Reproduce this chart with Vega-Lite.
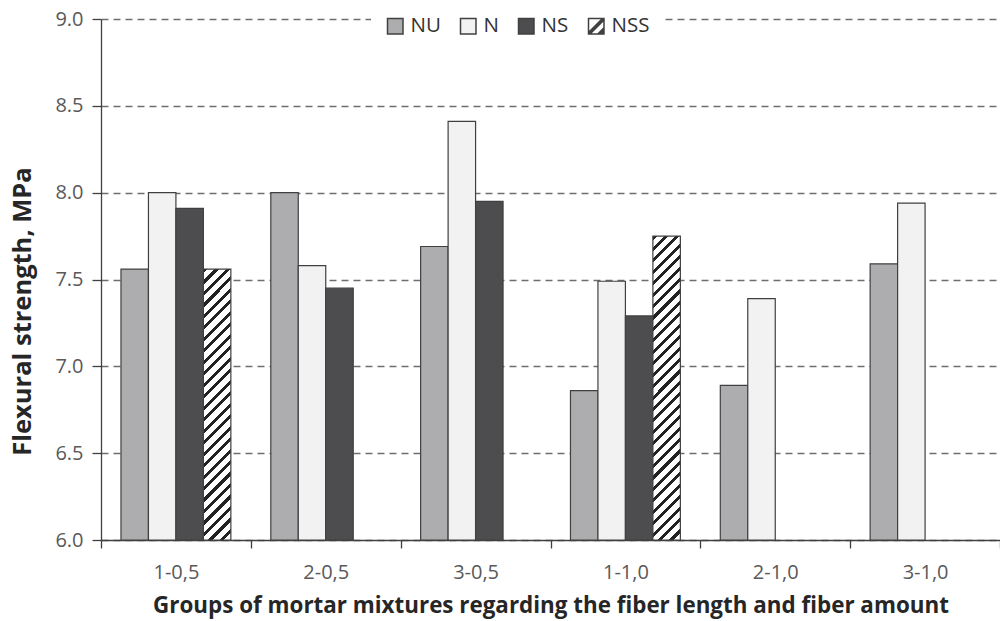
{
 "$schema": "https://vega.github.io/schema/vega-lite/v6.json",
 "width": 899,
 "height": 521,
 "autosize": {"type": "none"},
 "padding": {"left": 101, "top": 19, "right": 0, "bottom": 81},
 "background": "white",
 "config": {"font": "Open Sans", "view": {"stroke": null}},
 "data": {"values": [
  {"group": "1-0,5", "type": "NU", "value": 7.56},
  {"group": "1-0,5", "type": "N", "value": 8.00},
  {"group": "1-0,5", "type": "NS", "value": 7.91},
  {"group": "1-0,5", "type": "NSS", "value": 7.56},
  {"group": "2-0,5", "type": "NU", "value": 8.00},
  {"group": "2-0,5", "type": "N", "value": 7.58},
  {"group": "2-0,5", "type": "NS", "value": 7.45},
  {"group": "3-0,5", "type": "NU", "value": 7.69},
  {"group": "3-0,5", "type": "N", "value": 8.41},
  {"group": "3-0,5", "type": "NS", "value": 7.95},
  {"group": "1-1,0", "type": "NU", "value": 6.86},
  {"group": "1-1,0", "type": "N", "value": 7.49},
  {"group": "1-1,0", "type": "NS", "value": 7.29},
  {"group": "1-1,0", "type": "NSS", "value": 7.75},
  {"group": "2-1,0", "type": "NU", "value": 6.89},
  {"group": "2-1,0", "type": "N", "value": 7.39},
  {"group": "3-1,0", "type": "NU", "value": 7.59},
  {"group": "3-1,0", "type": "N", "value": 7.94}
 ]},
 "mark": {"type": "bar", "stroke": "#404040", "strokeWidth": 1.2, "clip": true},
 "encoding": {
  "x": {
   "field": "group", "type": "nominal",
   "sort": ["1-0,5", "2-0,5", "3-0,5", "1-1,0", "2-1,0", "3-1,0"],
   "scale": {"paddingInner": 0, "paddingOuter": 0},
   "axis": {
    "title": "Groups of mortar mixtures regarding the fiber length and fiber amount",
    "labelAngle": 0, "tickBand": "extent", "tickSize": 8, "tickColor": "#404040", "tickWidth": 1.3,
    "domainColor": "#404040", "domainWidth": 1.3, "grid": false,
    "labelFontSize": 20, "labelColor": "#595959", "labelPadding": 14,
    "titleFontSize": 22.4, "titleFontWeight": "bold", "titleColor": "#262626",
    "titleY": 65, "titleBaseline": "middle"
   }
  },
  "xOffset": {
   "field": "type", "type": "nominal",
   "scale": {"domain": ["NU", "N", "NS", "NSS"], "paddingInner": 0, "paddingOuter": 0.727}
  },
  "y": {
   "field": "value", "type": "quantitative",
   "scale": {"domain": [6, 9], "nice": false, "zero": false},
   "axis": {
    "title": "Flexural strength, MPa",
    "values": [6, 6.5, 7, 7.5, 8, 8.5, 9], "format": ".1f",
    "grid": true, "gridDash": [7, 5], "gridColor": "#6e6e6e", "gridWidth": 1.3,
    "tickSize": 9, "tickColor": "#404040", "tickWidth": 1.3,
    "domainColor": "#404040", "domainWidth": 1.3,
    "labelFontSize": 20, "labelColor": "#595959", "labelPadding": 9,
    "titleFontSize": 25.5, "titleFontWeight": "bold", "titleColor": "#262626",
    "titleX": -79, "titleY": 292, "titleBaseline": "middle", "titleAlign": "center", "titleAngle": 270
   }
  },
  "y2": {"datum": 6},
  "color": {
   "field": "type", "type": "nominal",
   "scale": {"domain": ["NU", "N", "NS", "NSS"], "range": ["#ADADAF", "#F2F2F2", "#4D4D4F", "#FFFFFF"]},
   "condition": [
    {"test": "datum.type === 'NSS' && datum.group === '1-0,5'", "value": {"gradient": "linear", "x1": 0, "y1": 0, "x2": 0.1107, "y2": 1.0902, "stops": [
     {"offset": 0, "color": "#222"}, {"offset": 0.0138, "color": "#222"}, {"offset": 0.0138, "color": "#fff"}, {"offset": 0.0385, "color": "#fff"},
     {"offset": 0.0385, "color": "#222"}, {"offset": 0.0523, "color": "#222"}, {"offset": 0.0523, "color": "#fff"}, {"offset": 0.0769, "color": "#fff"},
     {"offset": 0.0769, "color": "#222"}, {"offset": 0.0908, "color": "#222"}, {"offset": 0.0908, "color": "#fff"}, {"offset": 0.1154, "color": "#fff"},
     {"offset": 0.1154, "color": "#222"}, {"offset": 0.1292, "color": "#222"}, {"offset": 0.1292, "color": "#fff"}, {"offset": 0.1538, "color": "#fff"},
     {"offset": 0.1538, "color": "#222"}, {"offset": 0.1677, "color": "#222"}, {"offset": 0.1677, "color": "#fff"}, {"offset": 0.1923, "color": "#fff"},
     {"offset": 0.1923, "color": "#222"}, {"offset": 0.2062, "color": "#222"}, {"offset": 0.2062, "color": "#fff"}, {"offset": 0.2308, "color": "#fff"},
     {"offset": 0.2308, "color": "#222"}, {"offset": 0.2446, "color": "#222"}, {"offset": 0.2446, "color": "#fff"}, {"offset": 0.2692, "color": "#fff"},
     {"offset": 0.2692, "color": "#222"}, {"offset": 0.2831, "color": "#222"}, {"offset": 0.2831, "color": "#fff"}, {"offset": 0.3077, "color": "#fff"},
     {"offset": 0.3077, "color": "#222"}, {"offset": 0.3215, "color": "#222"}, {"offset": 0.3215, "color": "#fff"}, {"offset": 0.3462, "color": "#fff"},
     {"offset": 0.3462, "color": "#222"}, {"offset": 0.36, "color": "#222"}, {"offset": 0.36, "color": "#fff"}, {"offset": 0.3846, "color": "#fff"},
     {"offset": 0.3846, "color": "#222"}, {"offset": 0.3985, "color": "#222"}, {"offset": 0.3985, "color": "#fff"}, {"offset": 0.4231, "color": "#fff"},
     {"offset": 0.4231, "color": "#222"}, {"offset": 0.4369, "color": "#222"}, {"offset": 0.4369, "color": "#fff"}, {"offset": 0.4615, "color": "#fff"},
     {"offset": 0.4615, "color": "#222"}, {"offset": 0.4754, "color": "#222"}, {"offset": 0.4754, "color": "#fff"}, {"offset": 0.5, "color": "#fff"},
     {"offset": 0.5, "color": "#222"}, {"offset": 0.5138, "color": "#222"}, {"offset": 0.5138, "color": "#fff"}, {"offset": 0.5385, "color": "#fff"},
     {"offset": 0.5385, "color": "#222"}, {"offset": 0.5523, "color": "#222"}, {"offset": 0.5523, "color": "#fff"}, {"offset": 0.5769, "color": "#fff"},
     {"offset": 0.5769, "color": "#222"}, {"offset": 0.5908, "color": "#222"}, {"offset": 0.5908, "color": "#fff"}, {"offset": 0.6154, "color": "#fff"},
     {"offset": 0.6154, "color": "#222"}, {"offset": 0.6292, "color": "#222"}, {"offset": 0.6292, "color": "#fff"}, {"offset": 0.6538, "color": "#fff"},
     {"offset": 0.6538, "color": "#222"}, {"offset": 0.6677, "color": "#222"}, {"offset": 0.6677, "color": "#fff"}, {"offset": 0.6923, "color": "#fff"},
     {"offset": 0.6923, "color": "#222"}, {"offset": 0.7062, "color": "#222"}, {"offset": 0.7062, "color": "#fff"}, {"offset": 0.7308, "color": "#fff"},
     {"offset": 0.7308, "color": "#222"}, {"offset": 0.7446, "color": "#222"}, {"offset": 0.7446, "color": "#fff"}, {"offset": 0.7692, "color": "#fff"},
     {"offset": 0.7692, "color": "#222"}, {"offset": 0.7831, "color": "#222"}, {"offset": 0.7831, "color": "#fff"}, {"offset": 0.8077, "color": "#fff"},
     {"offset": 0.8077, "color": "#222"}, {"offset": 0.8215, "color": "#222"}, {"offset": 0.8215, "color": "#fff"}, {"offset": 0.8462, "color": "#fff"},
     {"offset": 0.8462, "color": "#222"}, {"offset": 0.86, "color": "#222"}, {"offset": 0.86, "color": "#fff"}, {"offset": 0.8846, "color": "#fff"},
     {"offset": 0.8846, "color": "#222"}, {"offset": 0.8985, "color": "#222"}, {"offset": 0.8985, "color": "#fff"}, {"offset": 0.9231, "color": "#fff"},
     {"offset": 0.9231, "color": "#222"}, {"offset": 0.9369, "color": "#222"}, {"offset": 0.9369, "color": "#fff"}, {"offset": 0.9615, "color": "#fff"},
     {"offset": 0.9615, "color": "#222"}, {"offset": 0.9754, "color": "#222"}, {"offset": 0.9754, "color": "#fff"}, {"offset": 1, "color": "#fff"}
    ]}},
    {"test": "datum.type === 'NSS' && datum.group === '1-1,0'", "value": {"gradient": "linear", "x1": 0, "y1": 0, "x2": 0.0979, "y2": 1.0818, "stops": [
     {"offset": 0, "color": "#222"}, {"offset": 0.0124, "color": "#222"}, {"offset": 0.0124, "color": "#fff"}, {"offset": 0.0345, "color": "#fff"},
     {"offset": 0.0345, "color": "#222"}, {"offset": 0.0469, "color": "#222"}, {"offset": 0.0469, "color": "#fff"}, {"offset": 0.069, "color": "#fff"},
     {"offset": 0.069, "color": "#222"}, {"offset": 0.0814, "color": "#222"}, {"offset": 0.0814, "color": "#fff"}, {"offset": 0.1034, "color": "#fff"},
     {"offset": 0.1034, "color": "#222"}, {"offset": 0.1159, "color": "#222"}, {"offset": 0.1159, "color": "#fff"}, {"offset": 0.1379, "color": "#fff"},
     {"offset": 0.1379, "color": "#222"}, {"offset": 0.1503, "color": "#222"}, {"offset": 0.1503, "color": "#fff"}, {"offset": 0.1724, "color": "#fff"},
     {"offset": 0.1724, "color": "#222"}, {"offset": 0.1848, "color": "#222"}, {"offset": 0.1848, "color": "#fff"}, {"offset": 0.2069, "color": "#fff"},
     {"offset": 0.2069, "color": "#222"}, {"offset": 0.2193, "color": "#222"}, {"offset": 0.2193, "color": "#fff"}, {"offset": 0.2414, "color": "#fff"},
     {"offset": 0.2414, "color": "#222"}, {"offset": 0.2538, "color": "#222"}, {"offset": 0.2538, "color": "#fff"}, {"offset": 0.2759, "color": "#fff"},
     {"offset": 0.2759, "color": "#222"}, {"offset": 0.2883, "color": "#222"}, {"offset": 0.2883, "color": "#fff"}, {"offset": 0.3103, "color": "#fff"},
     {"offset": 0.3103, "color": "#222"}, {"offset": 0.3228, "color": "#222"}, {"offset": 0.3228, "color": "#fff"}, {"offset": 0.3448, "color": "#fff"},
     {"offset": 0.3448, "color": "#222"}, {"offset": 0.3572, "color": "#222"}, {"offset": 0.3572, "color": "#fff"}, {"offset": 0.3793, "color": "#fff"},
     {"offset": 0.3793, "color": "#222"}, {"offset": 0.3917, "color": "#222"}, {"offset": 0.3917, "color": "#fff"}, {"offset": 0.4138, "color": "#fff"},
     {"offset": 0.4138, "color": "#222"}, {"offset": 0.4262, "color": "#222"}, {"offset": 0.4262, "color": "#fff"}, {"offset": 0.4483, "color": "#fff"},
     {"offset": 0.4483, "color": "#222"}, {"offset": 0.4607, "color": "#222"}, {"offset": 0.4607, "color": "#fff"}, {"offset": 0.4828, "color": "#fff"},
     {"offset": 0.4828, "color": "#222"}, {"offset": 0.4952, "color": "#222"}, {"offset": 0.4952, "color": "#fff"}, {"offset": 0.5172, "color": "#fff"},
     {"offset": 0.5172, "color": "#222"}, {"offset": 0.5297, "color": "#222"}, {"offset": 0.5297, "color": "#fff"}, {"offset": 0.5517, "color": "#fff"},
     {"offset": 0.5517, "color": "#222"}, {"offset": 0.5641, "color": "#222"}, {"offset": 0.5641, "color": "#fff"}, {"offset": 0.5862, "color": "#fff"},
     {"offset": 0.5862, "color": "#222"}, {"offset": 0.5986, "color": "#222"}, {"offset": 0.5986, "color": "#fff"}, {"offset": 0.6207, "color": "#fff"},
     {"offset": 0.6207, "color": "#222"}, {"offset": 0.6331, "color": "#222"}, {"offset": 0.6331, "color": "#fff"}, {"offset": 0.6552, "color": "#fff"},
     {"offset": 0.6552, "color": "#222"}, {"offset": 0.6676, "color": "#222"}, {"offset": 0.6676, "color": "#fff"}, {"offset": 0.6897, "color": "#fff"},
     {"offset": 0.6897, "color": "#222"}, {"offset": 0.7021, "color": "#222"}, {"offset": 0.7021, "color": "#fff"}, {"offset": 0.7241, "color": "#fff"},
     {"offset": 0.7241, "color": "#222"}, {"offset": 0.7366, "color": "#222"}, {"offset": 0.7366, "color": "#fff"}, {"offset": 0.7586, "color": "#fff"},
     {"offset": 0.7586, "color": "#222"}, {"offset": 0.771, "color": "#222"}, {"offset": 0.771, "color": "#fff"}, {"offset": 0.7931, "color": "#fff"},
     {"offset": 0.7931, "color": "#222"}, {"offset": 0.8055, "color": "#222"}, {"offset": 0.8055, "color": "#fff"}, {"offset": 0.8276, "color": "#fff"},
     {"offset": 0.8276, "color": "#222"}, {"offset": 0.84, "color": "#222"}, {"offset": 0.84, "color": "#fff"}, {"offset": 0.8621, "color": "#fff"},
     {"offset": 0.8621, "color": "#222"}, {"offset": 0.8745, "color": "#222"}, {"offset": 0.8745, "color": "#fff"}, {"offset": 0.8966, "color": "#fff"},
     {"offset": 0.8966, "color": "#222"}, {"offset": 0.909, "color": "#222"}, {"offset": 0.909, "color": "#fff"}, {"offset": 0.931, "color": "#fff"},
     {"offset": 0.931, "color": "#222"}, {"offset": 0.9435, "color": "#222"}, {"offset": 0.9435, "color": "#fff"}, {"offset": 0.9655, "color": "#fff"},
     {"offset": 0.9655, "color": "#222"}, {"offset": 0.9779, "color": "#222"}, {"offset": 0.9779, "color": "#fff"}, {"offset": 1, "color": "#fff"}
    ]}}
   ],
   "legend": {
    "title": null, "orient": "none", "legendX": 270, "legendY": -17, "direction": "horizontal",
    "fillColor": "white", "padding": 14,
    "symbolType": "square", "symbolSize": 240, "symbolStrokeColor": "#404040", "symbolStrokeWidth": 1.5,
    "labelFontSize": 20.5, "labelColor": "#333333", "labelOffset": 5, "columnPadding": 16,
    "encode": {"symbols": {"update": {
     "stroke": {"value": "#404040"},
     "strokeWidth": {"value": 1.5},
     "shape": [
      {"test": "datum.value === 'NSS'", "value": "M-1,-1H1V1H-1Z M-1,0.8L0.8,-1 M-1,1L1,-1 M-0.8,1L1,-0.8 M0.2,1L1,0.2 M0.4,1L1,0.4 M0.6,1L1,0.6 M0.8,1L1,0.8"},
      {"value": "square"}
     ]
    }}}
   }
  }
 }
}
